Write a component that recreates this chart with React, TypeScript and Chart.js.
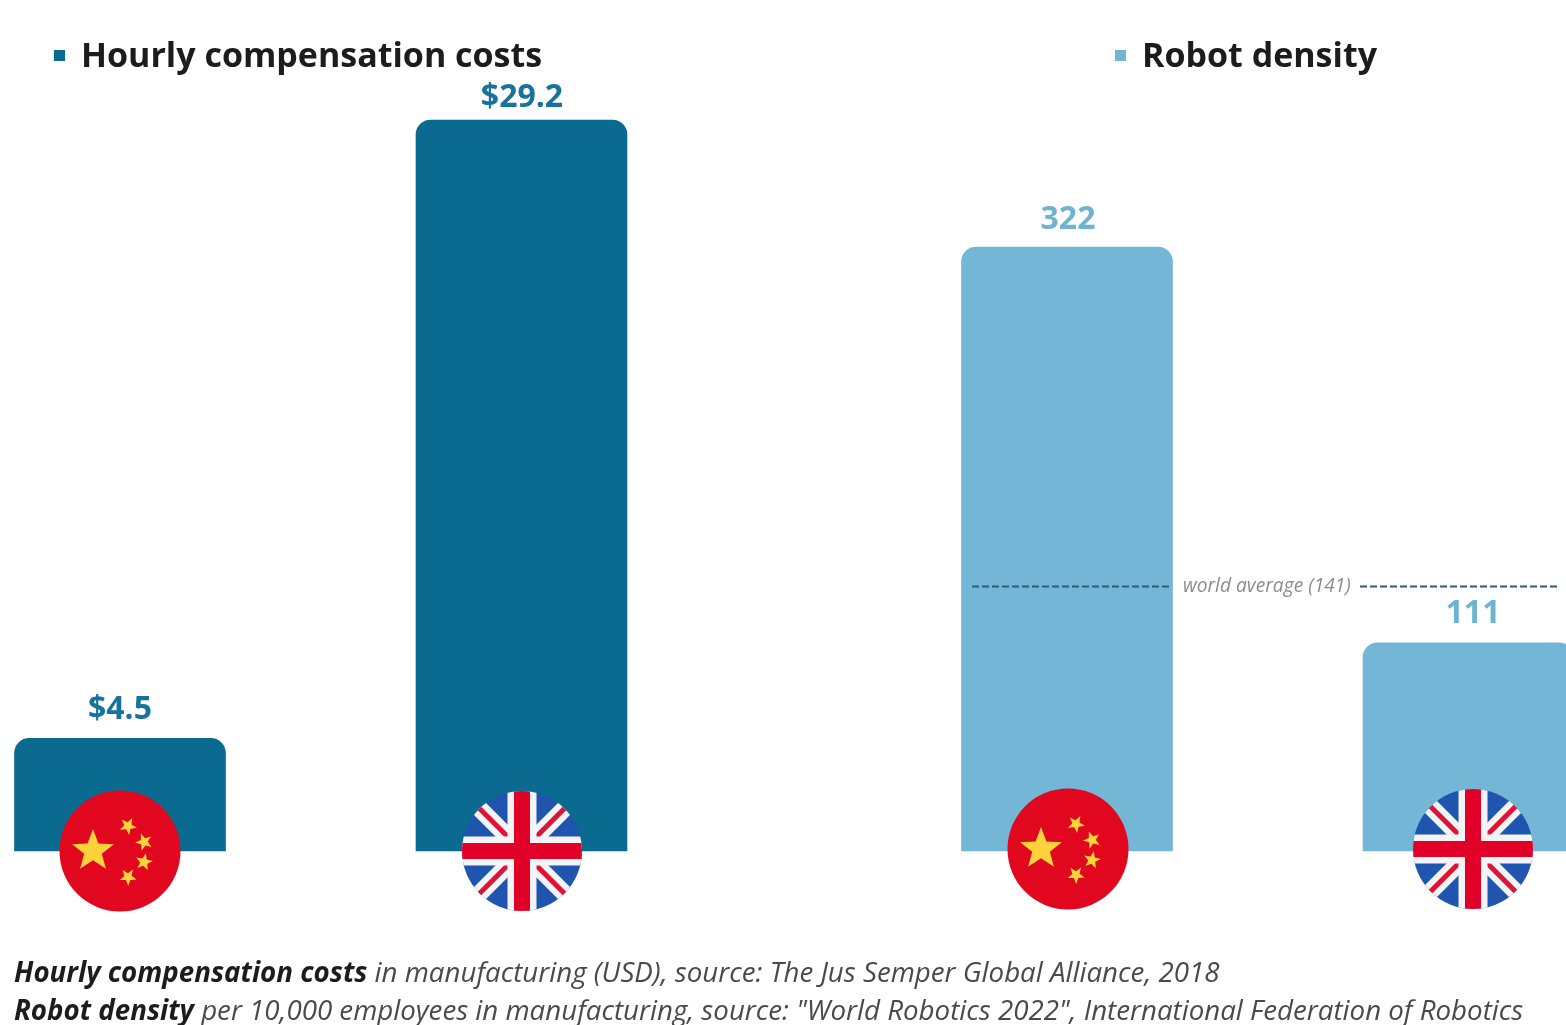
import React, { useEffect, useRef } from "react";
import { Chart, registerables } from "chart.js";

Chart.register(...registerables);

const countries = ["China", "United Kingdom"];
const compensationValues = [4.5, 29.2];
const compensationLabels = ["$4.5", "$29.2"];
const densityValues = [322, 111];
const densityLabels = ["322", "111"];
const worldAverage = 141;

const DARK = "#0b6a90";
const LIGHT = "#73b6d6";
const FONT = '"Open Sans", sans-serif';
const BAR_WIDTH = 211;

type Decor = {
  legendX: number;
  valueLabels: string[];
  labelColor: string;
  labelGaps: number[];
  markShift: number[];
  flagLift: number;
  average?: number;
};

function starPath(ctx: CanvasRenderingContext2D, cx: number, cy: number, r: number, rot: number) {
  ctx.beginPath();
  for (let i = 0; i < 10; i++) {
    const radius = i % 2 === 0 ? r : r * 0.42;
    const a = -Math.PI / 2 + rot + (i * Math.PI) / 5;
    const px = cx + radius * Math.cos(a);
    const py = cy + radius * Math.sin(a);
    if (i === 0) ctx.moveTo(px, py);
    else ctx.lineTo(px, py);
  }
  ctx.closePath();
  ctx.fill();
}

function drawChinaFlag(ctx: CanvasRenderingContext2D, x: number, y: number, r: number) {
  ctx.save();
  ctx.beginPath();
  ctx.arc(x, y, r, 0, Math.PI * 2);
  ctx.fillStyle = "#e0071f";
  ctx.fill();
  ctx.fillStyle = "#fdd23a";
  starPath(ctx, x - 27, y, 22, 0);
  starPath(ctx, x + 8, y - 25, 9, 0.5);
  starPath(ctx, x + 24, y - 9, 9, 0.9);
  starPath(ctx, x + 24, y + 11, 9, 0.2);
  starPath(ctx, x + 8, y + 26, 9, 0.6);
  ctx.restore();
}

function drawUkFlag(ctx: CanvasRenderingContext2D, x: number, y: number, r: number) {
  ctx.save();
  ctx.beginPath();
  ctx.arc(x, y, r, 0, Math.PI * 2);
  ctx.clip();
  ctx.fillStyle = "#1f55ae";
  ctx.fillRect(x - r, y - r, 2 * r, 2 * r);
  const stroke = (color: string, width: number, lines: number[][]) => {
    ctx.strokeStyle = color;
    ctx.lineWidth = width;
    for (const [x0, y0, x1, y1] of lines) {
      ctx.beginPath();
      ctx.moveTo(x + x0, y + y0);
      ctx.lineTo(x + x1, y + y1);
      ctx.stroke();
    }
  };
  const diagonals = [
    [-r, -r, r, r],
    [-r, r, r, -r],
  ];
  const cross = [
    [-r, 0, r, 0],
    [0, -r, 0, r],
  ];
  stroke("#f4f4f6", 17, diagonals);
  stroke("#dc1436", 5, diagonals);
  stroke("#f4f4f6", 29, cross);
  stroke("#e00028", 16, cross);
  ctx.restore();
}

const decorPlugin = {
  id: "decor",
  afterDatasetsDraw(chart: any, _args: any, opts: Decor) {
    const { ctx } = chart;
    const yScale = chart.scales.y;
    const bars = chart.getDatasetMeta(0).data;
    const dataset = chart.data.datasets[0];
    ctx.save();

    // series key above the bars
    ctx.fillStyle = dataset.backgroundColor;
    ctx.fillRect(opts.legendX, 50, 11, 11);
    ctx.fillStyle = "#1c1c1c";
    ctx.font = `700 34px ${FONT}`;
    ctx.textAlign = "left";
    ctx.textBaseline = "alphabetic";
    ctx.fillText(dataset.label, opts.legendX + 27, 67);

    // value above each bar
    ctx.font = `700 32px ${FONT}`;
    ctx.textAlign = "center";
    ctx.fillStyle = opts.labelColor;
    bars.forEach((bar: any, i: number) => {
      ctx.fillText(opts.valueLabels[i], bar.x + opts.markShift[i], bar.y - opts.labelGaps[i]);
    });

    // reference line with its inline caption
    if (opts.average !== undefined) {
      const y = yScale.getPixelForValue(opts.average);
      ctx.strokeStyle = "#2a5e7b";
      ctx.lineWidth = 2.2;
      ctx.setLineDash([7, 3]);
      ctx.beginPath();
      ctx.moveTo(192, y);
      ctx.lineTo(392, y);
      ctx.moveTo(580, y);
      ctx.lineTo(778, y);
      ctx.stroke();
      ctx.setLineDash([]);
      ctx.fillStyle = "#8c8c8c";
      ctx.font = `italic 400 19.2px ${FONT}`;
      ctx.textAlign = "left";
      ctx.textBaseline = "middle";
      ctx.fillText(`world average (${opts.average})`, 403, y);
    }

    // country flags sit on the baseline
    const base = yScale.getPixelForValue(0) - opts.flagLift;
    drawChinaFlag(ctx, bars[0].x + opts.markShift[0], base, 60.5);
    drawUkFlag(ctx, bars[1].x + opts.markShift[1], base, 60);
    ctx.restore();
  },
};

function makeChart(
  canvas: HTMLCanvasElement,
  label: string,
  values: number[],
  color: string,
  padding: { left: number; right: number; top: number; bottom: number },
  decor: Decor,
) {
  return new Chart(canvas, {
    type: "bar",
    data: {
      labels: countries,
      datasets: [
        {
          label,
          data: values,
          backgroundColor: color,
          barThickness: BAR_WIDTH,
          borderRadius: { topLeft: 15, topRight: 15, bottomLeft: 0, bottomRight: 0 },
          borderSkipped: false,
          clip: false,
        },
      ],
    },
    options: {
      animation: false,
      responsive: false,
      layout: { padding },
      scales: {
        x: { display: false, offset: false },
        y: { display: false, min: 0, max: Math.max(...values) },
      },
      plugins: { legend: { display: false }, tooltip: { enabled: false }, decor },
    },
    plugins: [decorPlugin],
  } as any);
}

export default function App() {
  const leftRef = useRef<HTMLCanvasElement>(null);
  const rightRef = useRef<HTMLCanvasElement>(null);

  useEffect(() => {
    const left = makeChart(
      leftRef.current!,
      "Hourly compensation costs",
      compensationValues,
      DARK,
      { left: 120, right: 258.5, top: 120, bottom: 174 },
      {
        legendX: 54,
        valueLabels: compensationLabels,
        labelColor: "#17739b",
        labelGaps: [19, 13],
        markShift: [0, 0.5],
        flagLift: 0,
      },
    );
    const right = makeChart(
      rightRef.current!,
      "Robot density",
      densityValues,
      LIGHT,
      { left: 287, right: 97.5, top: 247, bottom: 174 },
      {
        legendX: 335,
        valueLabels: densityLabels,
        labelColor: "#6fb3d3",
        labelGaps: [18, 20],
        markShift: [1, 4.5],
        flagLift: 2,
        average: worldAverage,
      },
    );
    return () => {
      left.destroy();
      right.destroy();
    };
  }, []);

  const noteStyle: React.CSSProperties = {
    position: "absolute",
    left: 14,
    font: `italic 400 27.7px ${FONT}`,
    color: "#4a4a4a",
    whiteSpace: "nowrap",
  };
  const strong: React.CSSProperties = { fontWeight: 700, color: "#1c1c1c" };

  return (
    <div style={{ position: "fixed", left: 0, top: 0, width: 1566, height: 1025, overflow: "hidden", background: "#fff" }}>
      <canvas ref={leftRef} width={780} height={1025} style={{ position: "absolute", left: 0, top: 0 }} />
      <canvas ref={rightRef} width={786} height={1025} style={{ position: "absolute", left: 780, top: 0 }} />
      <div style={{ ...noteStyle, top: 952 }}>
        <span style={strong}>Hourly compensation costs</span> in manufacturing (USD), source: The Jus Semper Global Alliance, 2018
      </div>
      <div style={{ ...noteStyle, top: 990 }}>
        <span style={strong}>Robot density</span> per 10,000 employees in manufacturing, source: "World Robotics 2022", International Federation of Robotics
      </div>
    </div>
  );
}
